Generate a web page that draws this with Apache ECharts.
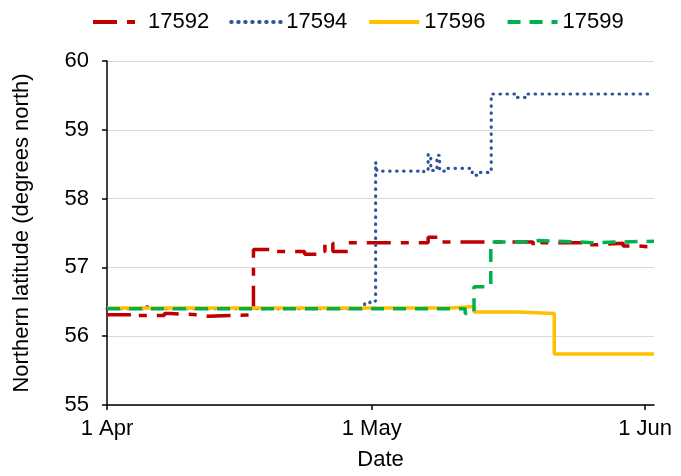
<!DOCTYPE html>
<html>
<head>
<meta charset="utf-8">
<script src="https://cdn.jsdelivr.net/npm/echarts@6/dist/echarts.min.js"></script>
<style>
  html, body { margin: 0; padding: 0; background: #fff; }
  #chart { width: 681px; height: 476px; }
</style>
</head>
<body>
<div id="chart"></div>
<script>
// days since 1 Apr (step changes) and latitude held from that day on
const days17592 = [0, 2.5, 3.2, 6.5, 7.2, 10.5, 11.5, 16.6, 19.2, 22.4, 24.1, 24.7, 25.6, 27.3, 36.4, 37.8, 48.3, 49.3, 54.5, 55.6, 58.5, 60.3, 62]
const lats17592 = [56.31, 56.33, 56.30, 56.33, 56.31, 56.29, 56.31, 57.26, 57.23, 57.19, 57.23, 57.36, 57.23, 57.36, 57.44, 57.37, 57.32, 57.36, 57.33, 57.35, 57.31, 57.29, 57.29]

const days17594 = [0, 4.4, 4.9, 29.2, 29.8, 30.45, 30.6, 35.3, 35.9, 36.4, 36.7, 37.4, 37.7, 38.3, 41.4, 42.3, 43.55, 46.2, 47.6, 62]
const lats17594 = [56.40, 56.43, 56.40, 56.47, 56.51, 58.53, 58.40, 58.38, 58.41, 58.64, 58.41, 58.63, 58.40, 58.44, 58.34, 58.38, 59.52, 59.47, 59.52, 59.52]

const days17596 = [0, 39.0, 41.6, 46.5, 50.7, 62]
const lats17596 = [56.41, 56.43, 56.35, 56.33, 55.74, 55.74]

const days17599 = [0, 40.6, 41.6, 43.5, 47.5, 49.0, 53.5, 55.0, 62]
const lats17599 = [56.40, 56.33, 56.72, 57.37, 57.39, 57.37, 57.36, 57.38, 57.38]

const seriesNames = ['17592', '17594', '17596', '17599']
const tickDays = [0, 30, 61]
const tickLabels = ['1 Apr', '1 May', '1 Jun']

const font = 'Liberation Sans, Arial, sans-serif'

function pairs (days, lats) {
  return days.map((d, i) => [d, lats[i]])
}

const chart = echarts.init(document.getElementById('chart'))
chart.setOption({
  animation: false,
  textStyle: { fontFamily: font },
  legend: {
    top: 6,
    left: 86,
    itemWidth: 50,
    itemHeight: 14,
    itemGap: 20,
    itemStyle: { opacity: 0 },
    lineStyle: { width: 4 },
    textStyle: { fontSize: 22, color: '#000', fontFamily: font },
    data: seriesNames
  },
  grid: {
    left: 107,
    right: 27,
    top: 61,
    bottom: 68
  },
  xAxis: {
    type: 'value',
    min: 0,
    max: 62,
    name: 'Date',
    nameLocation: 'middle',
    nameGap: 44,
    nameTextStyle: { fontSize: 22, color: '#000' },
    splitLine: { show: false },
    axisLine: { lineStyle: { color: '#000', width: 1.5 } },
    axisTick: {
      show: true,
      length: 5,
      customValues: tickDays,
      lineStyle: { color: '#000', width: 1.5 }
    },
    axisLabel: {
      fontSize: 22,
      color: '#000',
      margin: 13,
      customValues: tickDays,
      formatter: function (v) {
        const i = tickDays.indexOf(v)
        return i >= 0 ? tickLabels[i] : ''
      }
    }
  },
  yAxis: {
    type: 'value',
    min: 55,
    max: 60,
    interval: 1,
    name: 'Northern latitude (degrees north)',
    nameLocation: 'middle',
    nameGap: 74,
    nameTextStyle: { fontSize: 22, color: '#000' },
    axisLine: { show: true, lineStyle: { color: '#000', width: 1.5 } },
    axisTick: { show: true, length: 5, lineStyle: { color: '#000', width: 1.5 } },
    axisLabel: { fontSize: 22, color: '#000', margin: 18 },
    splitLine: { lineStyle: { color: '#d9d9d9', width: 1.2 } }
  },
  series: [
    {
      name: '17592',
      type: 'line',
      step: 'end',
      symbol: 'none',
      data: pairs(days17592, lats17592),
      itemStyle: { color: '#c00000' },
      lineStyle: { color: '#c00000', width: 3.5, type: [24, 10, 8, 10] }
    },
    {
      name: '17594',
      type: 'line',
      step: 'end',
      symbol: 'none',
      data: pairs(days17594, lats17594),
      itemStyle: { color: '#2f5597' },
      lineStyle: { color: '#2f5597', width: 3.2, type: [0.5, 6.5], cap: 'round' }
    },
    {
      name: '17596',
      type: 'line',
      step: 'end',
      symbol: 'none',
      data: pairs(days17596, lats17596),
      itemStyle: { color: '#ffc000' },
      lineStyle: { color: '#ffc000', width: 3.5 }
    },
    {
      name: '17599',
      type: 'line',
      step: 'end',
      symbol: 'none',
      data: pairs(days17599, lats17599),
      itemStyle: { color: '#00b050' },
      lineStyle: { color: '#00b050', width: 3.5, type: [13, 9] }
    }
  ]
})
</script>
</body>
</html>
